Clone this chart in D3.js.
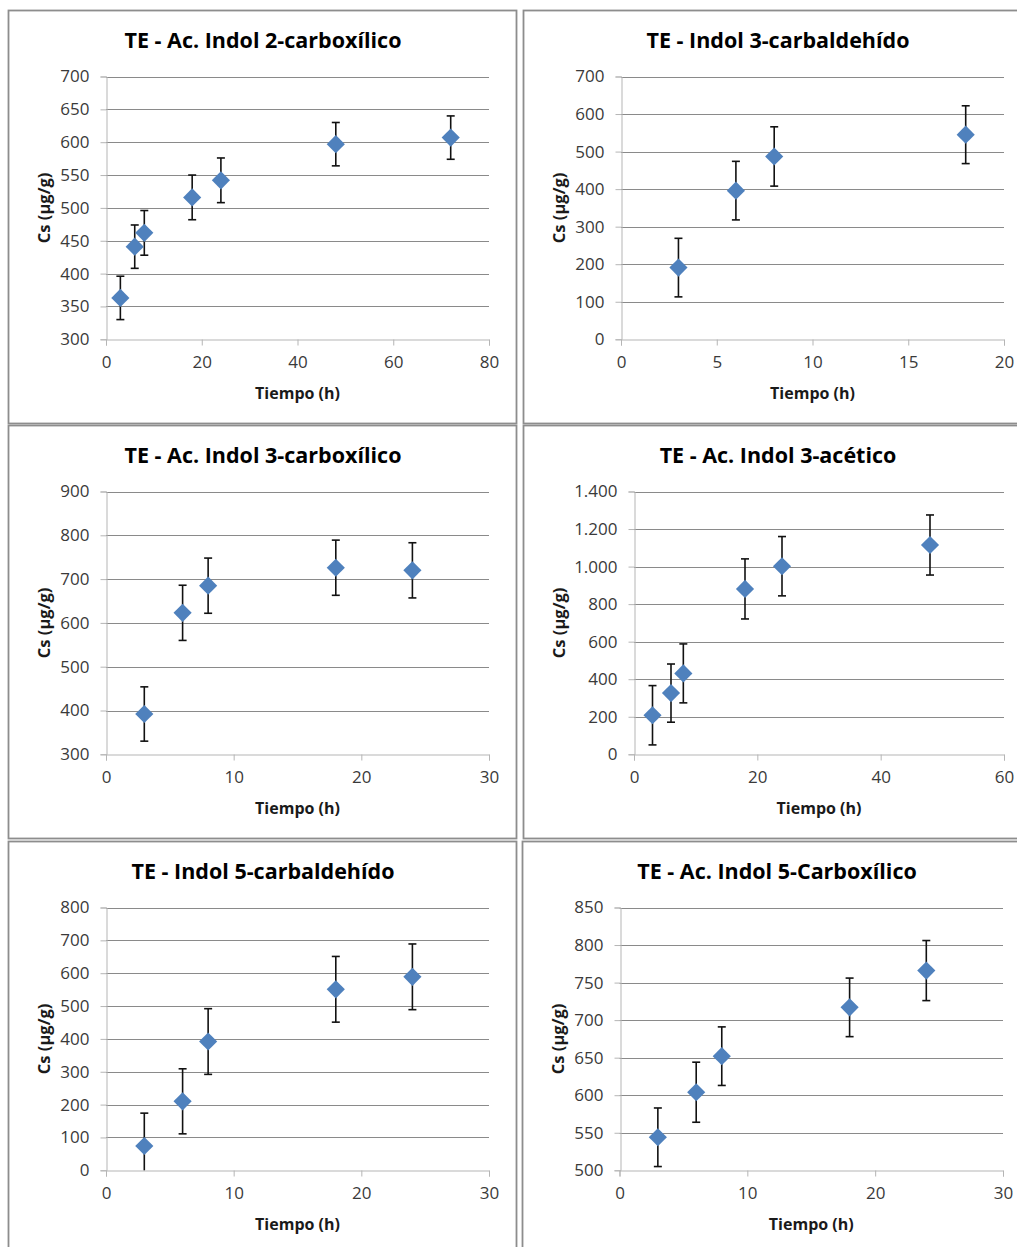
<!DOCTYPE html>
<html>
<head>
<meta charset="utf-8">
<script src="https://cdn.jsdelivr.net/npm/d3@7"></script>
<style>
  html, body { margin: 0; padding: 0; background: #fff; }
  svg { display: block; }
  .title { font-family: "Open Sans", Lato, sans-serif; font-weight: 700; font-size: 21.5px; fill: #000; }
  .axlabel { font-family: "Open Sans", Lato, sans-serif; font-weight: 700; font-size: 16px; fill: #1a1a1a; }
  .tick text { font-family: "Open Sans", Lato, sans-serif; font-size: 17px; fill: #3a3a3a; }
</style>
</head>
<body>
<script>
// ---- data: sorption capacity Cs (µg/g) vs. time (h), mean ± error ----
const titles = [
  "TE - Ac. Indol 2-carboxílico",
  "TE - Indol 3-carbaldehído",
  "TE - Ac. Indol 3-carboxílico",
  "TE - Ac. Indol 3-acético",
  "TE - Indol 5-carbaldehído",
  "TE - Ac. Indol 5-Carboxílico"
];

const hours1 = [3, 6, 8, 18, 24, 48, 72];
const cs1    = [363, 441, 462, 516, 542, 597, 607];
const err1   = [33, 33, 34, 34, 34, 33, 33];

const hours2 = [3, 6, 8, 18];
const cs2    = [191, 396, 487, 545];
const err2   = [78, 78, 79, 77];

const hours3 = [3, 6, 8, 18, 24];
const cs3    = [392, 623, 685, 726, 720];
const err3   = [62, 63, 63, 63, 63];

const hours4 = [3, 6, 8, 18, 24, 48];
const cs4    = [208, 326, 431, 881, 1002, 1115];
const err4   = [158, 155, 157, 160, 158, 160];

const hours5 = [3, 6, 8, 18, 24];
const cs5    = [74, 210, 392, 551, 589];
const err5   = [100, 99, 100, 100, 100];

const hours6 = [3, 6, 8, 18, 24];
const cs6    = [544, 604, 652, 717, 766];
const err6   = [39, 40, 39, 39, 40];

// axis ranges and tick steps
const xDomains = [[0, 80], [0, 20], [0, 30], [0, 60], [0, 30], [0, 30]];
const xSteps   = [20, 5, 10, 20, 10, 10];
const yDomains = [[300, 700], [0, 700], [300, 900], [0, 1400], [0, 800], [500, 850]];
const ySteps   = [50, 100, 100, 200, 100, 50];

const xLabel = "Tiempo (h)";
const yLabel = "Cs (µg/g)";

const series = [
  { hours: hours1, cs: cs1, err: err1 },
  { hours: hours2, cs: cs2, err: err2 },
  { hours: hours3, cs: cs3, err: err3 },
  { hours: hours4, cs: cs4, err: err4 },
  { hours: hours5, cs: cs5, err: err5 },
  { hours: hours6, cs: cs6, err: err6 }
];

// ---- layout ----
const W = 1017, H = 1247;
const panelW = 508, panelH = 413;
const panelOrigins = [[8, 10], [523, 10], [8, 425], [523, 425], [8, 841], [522, 841]];
const plotLeft = [98, 98, 98, 111, 98, 97.5];
const plotRight = 481, plotTop = 66.5, plotBottom = 329.3;

// Spanish number format: "." as thousands separator
const esLocale = d3.formatLocale({ decimal: ",", thousands: ".", grouping: [3], currency: ["", "€"] });
const fmtY = esLocale.format(",d");

const svg = d3.select("body").append("svg").attr("width", W).attr("height", H);

series.forEach((s, i) => {
  const [ox, oy] = panelOrigins[i];
  const g = svg.append("g").attr("transform", `translate(${ox},${oy})`);

  // panel frame
  g.append("rect")
    .attr("x", 0.5).attr("y", 0.5)
    .attr("width", panelW).attr("height", panelH)
    .attr("fill", "#fff")
    .attr("stroke", "#8d8d8d").attr("stroke-width", 1.8);

  const x = d3.scaleLinear().domain(xDomains[i]).range([plotLeft[i], plotRight]);
  const y = d3.scaleLinear().domain(yDomains[i]).range([plotBottom, plotTop]);

  const xTicks = d3.range(xDomains[i][0], xDomains[i][1] + 1e-9, xSteps[i]);
  const yTicks = d3.range(yDomains[i][0], yDomains[i][1] + 1e-9, ySteps[i]);

  // horizontal gridlines
  g.append("g").selectAll("line").data(yTicks.slice(1)).join("line")
    .attr("x1", plotLeft[i]).attr("x2", plotRight)
    .attr("y1", d => Math.round(y(d)) + 0.5).attr("y2", d => Math.round(y(d)) + 0.5)
    .attr("stroke", "#8a8a8a").attr("stroke-width", 1);

  // y axis
  const yAxis = g.append("g")
    .attr("transform", `translate(${Math.round(plotLeft[i]) + 0.5},0)`)
    .call(d3.axisLeft(y).tickValues(yTicks).tickFormat(fmtY).tickSize(6).tickPadding(8));
  yAxis.select(".domain").attr("stroke", "#b5b5b5");
  yAxis.selectAll(".tick line").attr("stroke", "#b5b5b5");
  yAxis.selectAll(".tick text").attr("dx", "-3");

  // x axis
  const xAxis = g.append("g")
    .attr("transform", `translate(0,${Math.round(plotBottom) + 0.5})`)
    .call(d3.axisBottom(x).tickValues(xTicks).tickFormat(d3.format("d")).tickSize(6).tickPadding(10));
  xAxis.select(".domain").attr("stroke", "#b5b5b5");
  xAxis.selectAll(".tick line").attr("stroke", "#b5b5b5");

  // title and axis labels
  g.append("text").attr("class", "title")
    .attr("x", panelW / 2 + 1).attr("y", 38)
    .attr("text-anchor", "middle").text(titles[i]);

  g.append("text").attr("class", "axlabel")
    .attr("x", (plotLeft[i] + plotRight) / 2).attr("y", 388.5)
    .attr("text-anchor", "middle").text(xLabel);

  g.append("text").attr("class", "axlabel")
    .attr("transform", `translate(35,${(plotTop + plotBottom) / 2}) rotate(-90)`)
    .attr("text-anchor", "middle").attr("dominant-baseline", "central")
    .style("font-size", "16.5px")
    .text(yLabel);

  const pts = s.hours.map((h, k) => ({ h, v: s.cs[k], e: s.err[k] }));
  const yMin = yDomains[i][0];

  // error bars (lower end clipped at the axis minimum)
  const eb = g.append("g").selectAll("g").data(pts).join("g");
  eb.append("line")
    .attr("x1", d => x(d.h)).attr("x2", d => x(d.h))
    .attr("y1", d => y(d.v + d.e)).attr("y2", d => y(Math.max(yMin, d.v - d.e)))
    .attr("stroke", "#111").attr("stroke-width", 1.6);
  eb.append("line")
    .attr("x1", d => x(d.h) - 4).attr("x2", d => x(d.h) + 4)
    .attr("y1", d => y(d.v + d.e)).attr("y2", d => y(d.v + d.e))
    .attr("stroke", "#111").attr("stroke-width", 1.6);
  eb.filter(d => d.v - d.e > yMin).append("line")
    .attr("x1", d => x(d.h) - 4).attr("x2", d => x(d.h) + 4)
    .attr("y1", d => y(d.v - d.e)).attr("y2", d => y(d.v - d.e))
    .attr("stroke", "#111").attr("stroke-width", 1.6);

  // diamond markers
  g.append("g").selectAll("path").data(pts).join("path")
    .attr("d", d3.symbol().type(d3.symbolSquare).size(165))
    .attr("transform", d => `translate(${x(d.h)},${y(d.v)}) rotate(45)`)
    .attr("fill", "#4f81bd");
});
</script>
</body>
</html>
